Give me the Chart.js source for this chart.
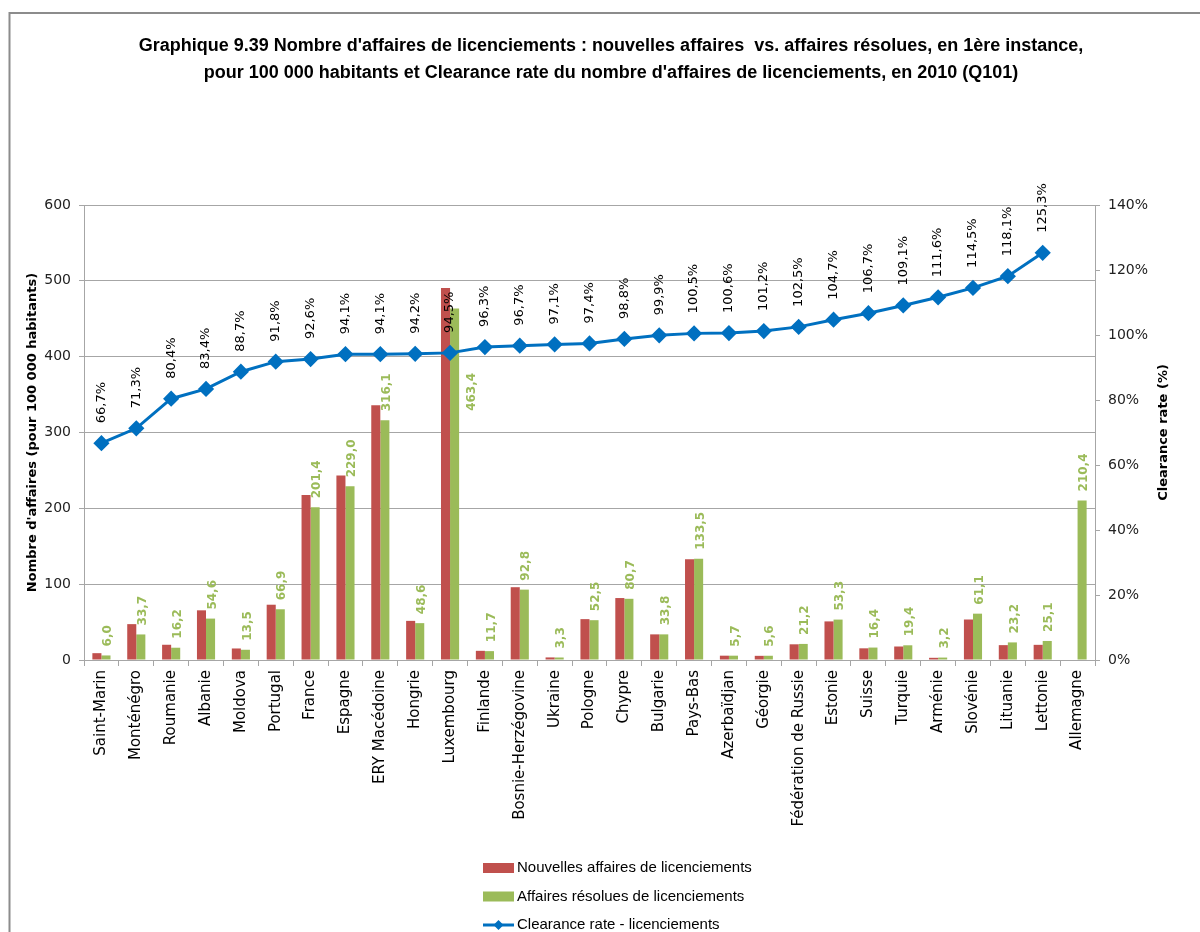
<!DOCTYPE html>
<html>
<head>
<meta charset="utf-8">
<script src="https://cdn.jsdelivr.net/npm/chart.js@4.4.0/dist/chart.umd.min.js"></script>
<style>
    html, body { margin: 0; padding: 0; background: #fff; }
    #wrap { width: 1200px; height: 932px; position: relative; }
</style>
</head>
<body>
<div id="wrap"><canvas id="chart" width="1200" height="932"></canvas></div>
<script>
'use strict';

/* Donnees */
const pays = ['Saint-Marin', 'Monténégro', 'Roumanie', 'Albanie', 'Moldova', 'Portugal', 'France', 'Espagne',
    'ERY Macédoine', 'Hongrie', 'Luxembourg', 'Finlande', 'Bosnie-Herzégovine', 'Ukraine', 'Pologne', 'Chypre',
    'Bulgarie', 'Pays-Bas', 'Azerbaïdjan', 'Géorgie', 'Fédération de Russie', 'Estonie', 'Suisse', 'Turquie',
    'Arménie', 'Slovénie', 'Lituanie', 'Lettonie', 'Allemagne'];

const nouvellesAffaires = [9.0, 47.3, 20.1, 65.5, 15.2, 72.9, 217.5, 243.4, 335.9, 51.6, 490.4, 12.1, 96.0, 3.4,
    53.9, 81.7, 33.8, 132.8, 5.7, 5.5, 20.7, 50.9, 15.4, 17.8, 2.9, 53.4, 19.6, 20.0, null];

const affairesResolues = [6.0, 33.7, 16.2, 54.6, 13.5, 66.9, 201.4, 229.0, 316.1, 48.6, 463.4, 11.7, 92.8, 3.3,
    52.5, 80.7, 33.8, 133.5, 5.7, 5.6, 21.2, 53.3, 16.4, 19.4, 3.2, 61.1, 23.2, 25.1, 210.4];

const clearanceRate = [66.7, 71.3, 80.4, 83.4, 88.7, 91.8, 92.6, 94.1, 94.1, 94.2, 94.5, 96.3, 96.7, 97.1, 97.4,
    98.8, 99.9, 100.5, 100.6, 101.2, 102.5, 104.7, 106.7, 109.1, 111.6, 114.5, 118.1, 125.3, null];

const titre = [
    "Graphique 9.39 Nombre d'affaires de licenciements : nouvelles affaires  vs. affaires résolues, en 1ère instance,",
    "pour 100 000 habitants et Clearance rate du nombre d'affaires de licenciements, en 2010 (Q101)"
];

const ROUGE = '#C0504D';
const VERT = '#9BBB59';
const BLEU = '#0070C0';
const GRILLE = '#A6A6A6';

const virgule = (v, d) => v.toFixed(d).replace('.', ',');

// bordure du cadre (haut et gauche)
const cadre = {
    id: 'cadre',
    beforeDraw(chart) {
        const c = chart.ctx;
        c.save();
        c.fillStyle = '#fff';
        c.fillRect(0, 0, chart.width, chart.height);
        c.strokeStyle = '#8c8c8c';
        c.lineWidth = 2;
        c.beginPath();
        c.moveTo(9.5, chart.height);
        c.lineTo(9.5, 13);
        c.lineTo(chart.width, 13);
        c.stroke();
        c.restore();
    }
};

// etiquettes verticales (valeurs)
const etiquettes = {
    id: 'etiquettes',
    afterDatasetsDraw(chart) {
        const c = chart.ctx;
        const barres = chart.getDatasetMeta(1).data;
        const points = chart.getDatasetMeta(2).data;
        c.save();
        c.textBaseline = 'middle';

        // affaires resolues
        c.font = 'bold 12px "DejaVu Sans"';
        c.fillStyle = VERT;
        barres.forEach((el, i) => {
            const v = affairesResolues[i];
            if (v == null) return;
            c.save();
            const pt = points[i];
            if (pt && clearanceRate[i] != null && el.y < pt.y + 20) {
                // trop haut : a cote de la barre, sous la courbe
                c.translate(el.x + 17, pt.y + 20);
                c.rotate(-Math.PI / 2);
                c.textAlign = 'right';
            } else {
                c.translate(el.x + 2, el.y - 9);
                c.rotate(-Math.PI / 2);
                c.textAlign = 'left';
            }
            c.fillText(virgule(v, 1), 0, 0);
            c.restore();
        });

        // clearance rate
        c.font = '13px "DejaVu Sans"';
        c.fillStyle = '#000';
        points.forEach((pt, i) => {
            const v = clearanceRate[i];
            if (v == null) return;
            c.save();
            c.translate(pt.x, pt.y - 20);
            c.rotate(-Math.PI / 2);
            c.textAlign = 'left';
            c.fillText(virgule(v, 1) + '%', 0, 0);
            c.restore();
        });
        c.restore();
    }
};

// titre de l'axe de droite (lu de bas en haut)
const titreDroite = {
    id: 'titreDroite',
    afterDraw(chart) {
        const c = chart.ctx;
        const a = chart.chartArea;
        c.save();
        c.font = 'bold 13px "DejaVu Sans"';
        c.fillStyle = '#000';
        c.textAlign = 'center';
        c.textBaseline = 'middle';
        c.translate(1164, (a.top + a.bottom) / 2);
        c.rotate(-Math.PI / 2);
        c.fillText('Clearance rate (%)', 0, 0);
        c.restore();
    }
};

// legende verticale en bas
const legende = {
    id: 'legende',
    afterDraw(chart) {
        const c = chart.ctx;
        const x0 = 483, y0 = 868, pas = 28.5;
        c.save();
        c.font = '15px "Liberation Sans", sans-serif';
        c.textBaseline = 'middle';
        c.textAlign = 'left';
        chart.data.datasets.forEach((ds, i) => {
            const y = y0 + i * pas;
            if (ds.type === 'line') {
                c.strokeStyle = ds.borderColor;
                c.lineWidth = 3;
                c.beginPath();
                c.moveTo(x0, y);
                c.lineTo(x0 + 31, y);
                c.stroke();
                c.fillStyle = ds.borderColor;
                c.beginPath();
                c.moveTo(x0 + 15.5, y - 5);
                c.lineTo(x0 + 20.5, y);
                c.lineTo(x0 + 15.5, y + 5);
                c.lineTo(x0 + 10.5, y);
                c.closePath();
                c.fill();
            } else {
                c.fillStyle = ds.backgroundColor;
                c.fillRect(x0, y - 5, 31, 10);
            }
            c.fillStyle = '#000';
            c.fillText(ds.label, x0 + 34, y);
        });
        c.restore();
    }
};

Chart.defaults.font.family = '"DejaVu Sans", sans-serif';
Chart.defaults.color = '#222';

new Chart(document.getElementById('chart'), {
    type: 'bar',
    data: {
        labels: pays,
        datasets: [{
            label: 'Nouvelles affaires de licenciements',
            data: nouvellesAffaires,
            backgroundColor: ROUGE,
            yAxisID: 'y',
            order: 1
        }, {
            label: 'Affaires résolues de licenciements',
            data: affairesResolues,
            backgroundColor: VERT,
            yAxisID: 'y',
            order: 1
        }, {
            type: 'line',
            label: 'Clearance rate - licenciements',
            data: clearanceRate,
            borderColor: BLEU,
            backgroundColor: BLEU,
            borderWidth: 3,
            pointStyle: 'rectRot',
            pointRadius: 6,
            pointBackgroundColor: BLEU,
            pointBorderColor: BLEU,
            tension: 0,
            yAxisID: 'y1',
            order: 0
        }]
    },
    options: {
        responsive: false,
        animation: false,
        datasets: {
            bar: {
                categoryPercentage: 0.52,
                barPercentage: 1
            }
        },
        layout: {
            padding: { left: 22, right: 0, top: 0, bottom: 0 }
        },
        scales: {
            x: {
                afterFit: (s) => { s.height = 272; },
                grid: { drawOnChartArea: false, color: GRILLE, tickLength: 6 },
                border: { color: GRILLE },
                ticks: {
                    minRotation: 90,
                    maxRotation: 90,
                    padding: 4,
                    autoSkip: false,
                    color: '#000',
                    font: { size: 15 }
                }
            },
            y: {
                position: 'left',
                min: 0,
                max: 600,
                afterFit: (s) => { s.width = 62; },
                ticks: { stepSize: 100, padding: 8, color: '#222', font: { size: 14 } },
                grid: { color: GRILLE, tickLength: 5 },
                border: { color: GRILLE },
                title: {
                    display: true,
                    text: "Nombre d'affaires (pour 100 000 habitants)",
                    color: '#000',
                    font: { size: 13, weight: 'bold' },
                    padding: { top: 3, bottom: 0 }
                }
            },
            y1: {
                position: 'right',
                min: 0,
                max: 140,
                afterFit: (s) => { s.width = 105; },
                ticks: {
                    stepSize: 20,
                    padding: 8,
                    color: '#222',
                    font: { size: 14 },
                    callback: (v) => v + '%'
                },
                grid: { drawOnChartArea: false, color: GRILLE, tickLength: 5 },
                border: { color: GRILLE }
            }
        },
        plugins: {
            legend: { display: false },
            tooltip: { enabled: false },
            title: {
                display: true,
                text: titre,
                color: '#000',
                font: { family: '"Liberation Sans", sans-serif', size: 18, weight: 'bold', lineHeight: 1.5 },
                padding: { top: 33, bottom: 118 }
            }
        }
    },
    plugins: [cadre, etiquettes, titreDroite, legende]
});
</script>
</body>
</html>
